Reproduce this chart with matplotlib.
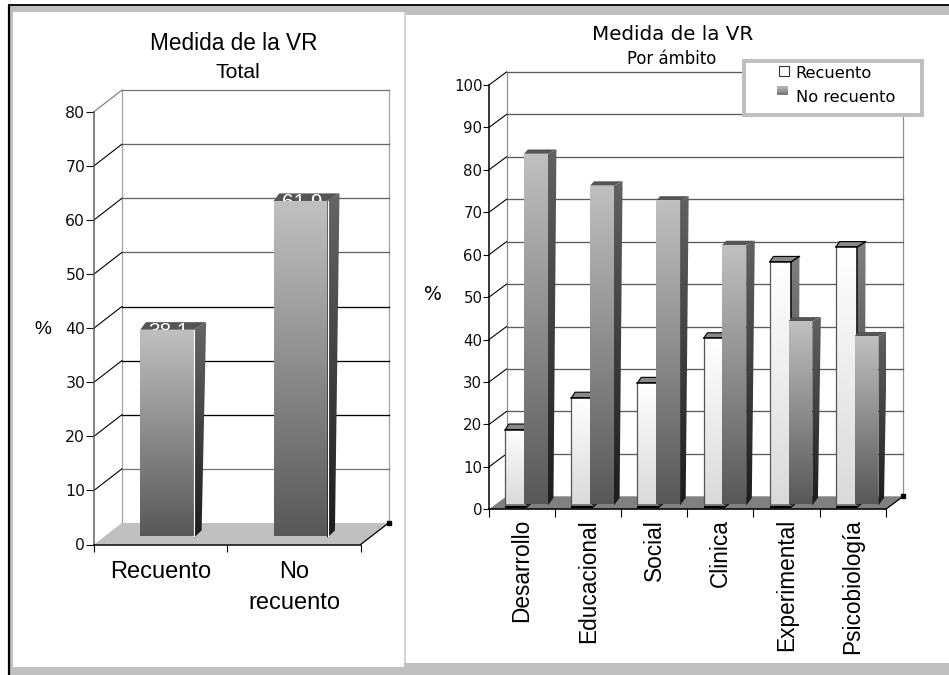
import numpy as np
import matplotlib
matplotlib.use("Agg")
import matplotlib.pyplot as plt
from matplotlib.patches import Polygon, Rectangle

W, H = 949, 675

total_labels = ["Recuento", "No\nrecuento"]
total_values = [38.1, 61.9]
total_text = ["38,1", "61,9"]

ambitos = ["Desarrollo", "Educacional", "Social", "Clinica", "Experimental", "Psicobiología"]
recuento = [17.5, 25.0, 28.5, 39.0, 57.0, 60.5]
no_recuento = [82.5, 75.0, 71.5, 61.0, 43.0, 39.5]

SANS = "Liberation Sans"
LUCIDA = "DejaVu Sans"

fig = plt.figure(figsize=(W / 100, H / 100), dpi=100, facecolor="white")


def px_axes(x0, x1, ytop, ybot, **kw):
    return fig.add_axes([x0 / W, 1 - ybot / H, (x1 - x0) / W, (ybot - ytop) / H], **kw)


# page frame in pixel coordinates
bg = px_axes(0, W, 0, H, zorder=0)
bg.set_xlim(0, W)
bg.set_ylim(H, 0)
bg.axis("off")
GRIS = "#c0c0c0"
bg.add_patch(Rectangle((8, 5), W - 8, H - 5, fc=GRIS, ec="none"))
bg.add_patch(Rectangle((13, 12), 391, 654.7, fc="white", ec="none"))
bg.add_patch(Rectangle((406, 14.7), W - 406, 648, fc="white", ec="none"))
bg.add_patch(Rectangle((404, 12), 2, 651, fc="#d4d4d4", ec="none"))
bg.plot([8, W], [5.2, 5.2], color="#101010", lw=1.4, solid_capstyle="butt")
bg.plot([9, 9], [5, H], color="black", lw=1.6, solid_capstyle="butt")


def grad_poly(ax, pts, top, bottom, z):
    # polygon filled with a vertical gradient
    xs = [p[0] for p in pts]
    ys = [p[1] for p in pts]
    a = np.array(matplotlib.colors.to_rgb(top))
    b = np.array(matplotlib.colors.to_rgb(bottom))
    t = np.linspace(0, 1, 128)[:, None]
    img = (a * (1 - t) + b * t)[:, None, :]
    im = ax.imshow(img, extent=[min(xs), max(xs), min(ys), max(ys)], aspect="auto",
                   zorder=z, interpolation="bilinear")
    poly = Polygon(pts, closed=True, transform=ax.transData, fc="none", ec="none")
    im.set_clip_path(poly)
    im.set_clip_box(None)
    return im


def bar3d(ax, x, w, base, val, st, z):
    dx, dy, dxb, dyb = st["dx"], st["dy"], st["dxb"], st["dyb"]
    top = base + val
    # top face
    ax.add_patch(Polygon([(x, top), (x + dx * 0.45, top + dy), (x + w + dx, top + dy), (x + w, top)],
                         fc=st["cap"], ec=st["cap_ec"], lw=st["lw"], zorder=z))
    # side face
    grad_poly(ax, [(x + w, top), (x + w + dx, top + dy), (x + w + dxb, base + dyb), (x + w, base - 0.4)],
              st["side_top"], st["side_bot"], z + 0.1)
    if st["edge"]:
        ax.plot([x + w, x + w + dx], [top, top + dy], color="black", lw=0.9, zorder=z + 0.2)
    return top


def front(ax, x, w, base, val, st, z):
    top = base + val
    grad_poly(ax, [(x, base), (x, top), (x + w, top), (x + w, base)], st["top"], st["bot"], z)
    if st["edge"]:
        ax.plot([x, x], [base, top], color="#555555", lw=0.9, zorder=z + 0.1)
        ax.plot([x, x + w], [top, top], color="black", lw=1.1, zorder=z + 0.1)
        ax.plot([x + w, x + w], [base, top], color="black", lw=1.1, zorder=z + 0.1)


def caja(ax, ncat, vmax, step, dx, dy, floor, grid_colors, diag_colors, wall="#a0a0a0"):
    # back wall, side wall and floor of the 3D box
    ax.add_patch(Polygon([(0, 0), (dx, dy), (ncat + dx, dy), (ncat, 0)], fc=floor, ec="none", zorder=1))
    levels = np.arange(0, vmax + step, step)
    for v, gc, dc in zip(levels, grid_colors, diag_colors):
        if v > 0:
            ax.plot([dx, ncat + dx], [v + dy, v + dy], color=gc, lw=0.95, zorder=0.5)
            ax.plot([0, dx], [v, v + dy], color=dc, lw=0.8, zorder=0.5)
    ax.plot([dx, dx], [dy, vmax + dy], color=wall, lw=0.9, zorder=0.4)
    ax.plot([ncat + dx, ncat + dx], [dy, vmax + dy], color=wall, lw=0.9, zorder=0.4)
    ax.plot([ncat, ncat + dx], [0, dy], color="black", lw=0.9, zorder=1.1)
    ax.plot([ncat + dx], [dy], marker="s", ms=2.2, color="black", zorder=1.1)


def ejes(ax, ncat, vmax, step, labels, tick_x, tick_y, ysize, spine, **label_kw):
    ax.set_xlim(0, ncat)
    ax.set_ylim(0, vmax)
    ax.patch.set_visible(False)
    ax.autoscale(False)
    for s in ["top", "right"]:
        ax.spines[s].set_visible(False)
    ax.spines["left"].set_color(spine)
    ax.spines["left"].set_linewidth(1.1)
    ax.spines["bottom"].set_linewidth(1.1)
    ax.spines["bottom"].set_zorder(6)
    ax.set_yticks(np.arange(0, vmax + step, step))
    ax.tick_params(axis="y", length=tick_y, width=0.8, labelsize=ysize, pad=0.5, colors="#111111")
    ax.set_xticks(np.arange(ncat + 1))
    ax.set_xticklabels([])
    ax.tick_params(axis="x", which="major", length=tick_x, width=0.8)
    ax.set_xticks(np.arange(ncat) + 0.5, minor=True)
    ax.set_xticklabels(labels, minor=True, family=SANS, **label_kw)
    ax.tick_params(axis="x", which="minor", length=0)


def sin_recorte(ax):
    # the box and the bars stick out of the axes rectangle
    for a in list(ax.lines) + list(ax.patches):
        a.set_clip_on(False)


# left panel: overall share
ax1 = px_axes(94, 360.7, 111.7, 544.5, zorder=1)
ejes(ax1, 2, 80, 10, total_labels, 4.7, 5.8, 11.3, "#606060", fontsize=17, linespacing=1.5)
ax1.tick_params(axis="x", which="minor", pad=12)
dx1, dy1 = 27.8 / 133.35, 21.5 / 5.41
caja(ax1, 2, 80, 10, dx1, dy1, GRIS,
     ["", "#777777", "black", "black", "black", "#666666", "#666666", "#666666", "#777777"],
     ["", "black", "black", "black", "black", "black", "black", "black", "#777777"])
st1 = dict(dx=0.094, dy=1.4, dxb=0.06, dyb=1.0, cap="#555555", cap_ec="none", lw=0,
           side_top="#666666", side_bot="#1c1c1c", top="#c0c0c0", bot="#585858", edge=False)
base1 = 1.6
for i, (v, t) in enumerate(zip(total_values, total_text)):
    x = i + 0.347
    w = 0.40
    bar3d(ax1, x, w, base1, v, st1, 2)
    # value label sits half hidden behind the front face
    ax1.text(x + w / 2 + 0.015, base1 + v - 0.2, t, color="white", fontsize=15, family=SANS,
             ha="center", va="center", zorder=2.6)
    front(ax1, x, w, base1, v, st1, 3)
    ax1.plot([x + w + 0.006] * 2, [base1, base1 + v], color="white", lw=0.8, zorder=3.2)
sin_recorte(ax1)

# right panel: by field
ax2 = px_axes(489, 885.7, 85, 509.3, zorder=1)
ejes(ax2, 6, 100, 10, ambitos, 5.8, 4.3, 10.8, "black", fontsize=16.3, rotation=90)
ax2.tick_params(axis="x", which="minor", pad=7)
dx2, dy2 = 17.5 / 66.1, 13 / 4.243
caja(ax2, 6, 100, 10, dx2, dy2, "#808080",
     [""] + ["#5c5c5c"] * 10, [""] + ["black"] * 10, wall="#909090")
st_r = dict(dx=0.125, dy=1.3, dxb=0.11, dyb=1.0, cap="#888888", cap_ec="black", lw=0.8,
            side_top="#808080", side_bot="#303030", top="#ffffff", bot="#dadada", edge=True)
st_n = dict(dx=0.13, dy=1.0, dxb=0.085, dyb=1.4, cap="#555555", cap_ec="none", lw=0,
            side_top="#626262", side_bot="#1c1c1c", top="#c0c0c0", bot="#585858", edge=False)
base2 = 1.3
for i in range(len(ambitos)):
    xr, wr = i + 0.246, 0.325
    xn, wn = i + 0.53, 0.36
    ax2.plot([xr, xr + wr], [0.55, 0.55], color="black", lw=1.6, zorder=1.5, solid_capstyle="butt")
    ax2.plot([xr + wr, xr + wr + 0.1], [0.55, 1.9], color="black", lw=0.9, zorder=1.5)
    bar3d(ax2, xr, wr, base2, recuento[i], st_r, 2 + i)
    front(ax2, xr, wr, base2, recuento[i], st_r, 2.3 + i)
    bar3d(ax2, xn, wn, base2, no_recuento[i], st_n, 2.5 + i)
    front(ax2, xn, wn, base2, no_recuento[i], st_n, 2.7 + i)
sin_recorte(ax2)

# titles and axis names
bg_txt = px_axes(0, W, 0, H, zorder=5)
bg_txt.set_xlim(0, W)
bg_txt.set_ylim(H, 0)
bg_txt.axis("off")
bg_txt.text(233.5, 43.5, "Medida de la VR", family=SANS, fontsize=16.3, ha="center", va="center")
bg_txt.text(238, 73, "Total", family=SANS, fontsize=15.3, ha="center", va="center")
bg_txt.text(43, 330, "%", family=SANS, fontsize=13.8, ha="center", va="center")
bg_txt.text(673, 34.5, "Medida de la VR", family=LUCIDA, fontsize=14.3, ha="center", va="center")
bg_txt.text(672, 59, "Por ámbito", family=LUCIDA, fontsize=11.9, ha="center", va="center")
bg_txt.text(433, 295, "%", family=LUCIDA, fontsize=13.6, ha="center", va="center")

# legend box
bg_txt.add_patch(Rectangle((744.3, 61.3), 177.7, 54, fc="white", ec=GRIS, lw=2.9))
bg_txt.add_patch(Rectangle((779, 65.7), 10, 10, fc="white", ec="#333333", lw=0.8))
bg_txt.add_patch(Rectangle((776.7, 86), 11, 3, fc="#b0b0b0", ec="none"))
bg_txt.add_patch(Rectangle((776.7, 89), 11, 3, fc="#989898", ec="none"))
bg_txt.add_patch(Rectangle((776.7, 92), 11, 3, fc="#7c7c7c", ec="none"))
bg_txt.text(795.7, 74, "Recuento", family=LUCIDA, fontsize=11.7, ha="left", va="center")
bg_txt.text(795.7, 97, "No recuento", family=LUCIDA, fontsize=11.7, ha="left", va="center")

fig.savefig("out.png", dpi=100)
